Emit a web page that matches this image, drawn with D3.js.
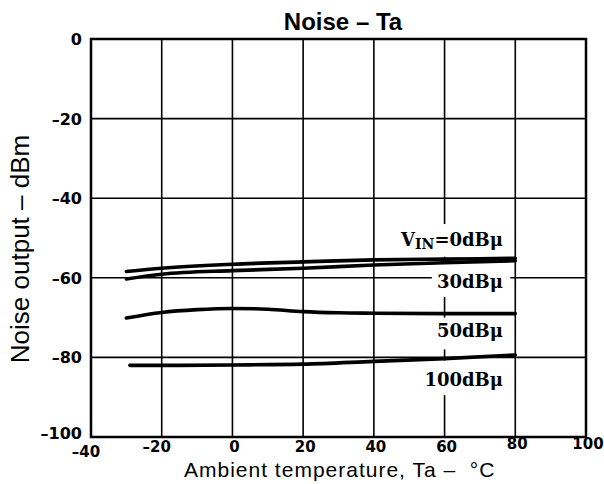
<!DOCTYPE html>
<html><head><meta charset="utf-8">
<script src="https://cdn.jsdelivr.net/npm/d3@7"></script>
<style>html,body{margin:0;padding:0;background:#fff;}svg{display:block;}</style>
</head><body>
<svg id="chart" width="604" height="484"></svg>
<script>
// ---- data ----
const title = "Noise – Ta";
const xTitle = "Ambient temperature, Ta –  °C";
const yTitle = "Noise output – dBm";
const xTicks = [-40, -20, 0, 20, 40, 60, 80, 100];
const yTicks = [0, -20, -40, -60, -80, -100];
const seriesNames = ["0dBμ", "30dBμ", "50dBμ", "100dBμ"];
const temps0 = [-30, -20, 0, 20, 40, 60, 80];
const noise0 = [-58.4, -57.6, -56.6, -56.0, -55.5, -55.3, -55.1];
const temps30 = [-30, -20, 0, 20, 40, 60, 80];
const noise30 = [-60.3, -59.1, -58.2, -57.6, -56.8, -56.2, -55.7];
const temps50 = [-30, -20, -10, 0, 10, 20, 30, 40, 60, 80];
const noise50 = [-70.1, -68.7, -68.0, -67.7, -67.9, -68.5, -68.8, -68.9, -69.0, -69.0];
const temps100 = [-29, -20, 0, 20, 40, 60, 80];
const noise100 = [-82.0, -82.0, -81.9, -81.7, -81.0, -80.3, -79.4];

const series = [
  {t: temps0, v: noise0},
  {t: temps30, v: noise30},
  {t: temps50, v: noise50},
  {t: temps100, v: noise100}
];

const svg = d3.select("#chart");
const L = 91, R = 586, T = 39, B = 437;
const x = d3.scaleLinear().domain([-40, 100]).range([L, R]);
const y = d3.scaleLinear().domain([-100, 0]).range([B, T]);

// grid
const g = svg.append("g");
g.selectAll("line.vx").data(xTicks.slice(1, -1)).join("line")
  .attr("x1", d => x(d)).attr("x2", d => x(d)).attr("y1", T).attr("y2", B)
  .attr("stroke", "#000").attr("stroke-width", 1.6);
g.selectAll("line.hy").data(yTicks.slice(1, -1)).join("line")
  .attr("x1", L).attr("x2", R).attr("y1", d => y(d)).attr("y2", d => y(d))
  .attr("stroke", "#000").attr("stroke-width", 1.6);

// white boxes behind labels (knock out grid)
const labelBoxes = [
  {x0: 44, x1: 78.6, y0: -46.5, y1: -54.7},
  {x0: 56.4, x1: 78.6, y0: -56.3, y1: -64.8},
  {x0: 57.3, x1: 78.6, y0: -70.0, y1: -78.0},
  {x0: 54.5, x1: 78.6, y0: -80.8, y1: -89.5}
];
g.selectAll("rect.box").data(labelBoxes).join("rect")
  .attr("x", d => x(d.x0)).attr("width", d => x(d.x1) - x(d.x0))
  .attr("y", d => y(d.y0)).attr("height", d => y(d.y1) - y(d.y0))
  .attr("fill", "#fff");

// frame
svg.append("rect").attr("x", L).attr("y", T).attr("width", R - L).attr("height", B - T)
  .attr("fill", "none").attr("stroke", "#000").attr("stroke-width", 2.5);

// curves
const line = d3.line().x(d => x(d[0])).y(d => y(d[1])).curve(d3.curveMonotoneX);
svg.selectAll("path.curve").data(series).join("path")
  .attr("d", s => line(s.t.map((t, i) => [t, s.v[i]])))
  .attr("fill", "none").attr("stroke", "#000").attr("stroke-width", 3.6)
  .attr("stroke-linecap", "round");

// axis tick labels
const tickFont = "'DejaVu Sans', sans-serif";
svg.selectAll("text.yt").data(yTicks).join("text")
  .attr("x", 82).attr("y", d => d === -100 ? y(d) + 2 : y(d) + 6)
  .attr("text-anchor", "end").attr("font-family", tickFont).attr("font-weight", "bold")
  .attr("font-size", 16).text(d => d < 0 ? "–" + Math.abs(d) : d);
svg.selectAll("text.xt").data(xTicks).join("text")
  .attr("x", d => x(d) + (d < 0 ? -5 : 2))
  .attr("y", d => d >= 80 ? 449 : (d === -40 ? 457 : 452))
  .attr("text-anchor", "middle").attr("font-family", tickFont).attr("font-weight", "bold")
  .attr("font-size", 15).text(d => d < 0 ? "–" + Math.abs(d) : d);

// titles
svg.append("text").attr("x", 343).attr("y", 30).attr("text-anchor", "middle")
  .attr("font-family", "'Liberation Sans', Arial, sans-serif").attr("font-weight", "bold")
  .attr("font-size", 24).text(title);
svg.append("text").attr("x", 184).attr("y", 477)
  .attr("font-family", "'Liberation Sans', Arial, sans-serif")
  .attr("font-size", 21).attr("letter-spacing", 1)
  .attr("xml:space", "preserve").style("white-space", "pre").text(xTitle);
svg.append("text").attr("transform", "translate(29,249) rotate(-90)").attr("text-anchor", "middle")
  .attr("font-family", "'Liberation Sans', Arial, sans-serif")
  .attr("font-size", 26).text(yTitle);

// series labels
const serifFont = "'DejaVu Serif', serif";
const labelY = [-52.0, -62.6, -74.8, -87.2];
const labX = 503;
const lab0 = svg.append("text").attr("x", labX).attr("y", y(labelY[0]))
  .attr("text-anchor", "end").attr("font-family", serifFont).attr("font-weight", "bold").attr("font-size", 18);
lab0.append("tspan").text("V");
lab0.append("tspan").attr("font-size", 14).attr("dy", 3).text("IN");
lab0.append("tspan").attr("dy", -3).text("=" + seriesNames[0]);
svg.selectAll("text.sl").data(seriesNames.slice(1)).join("text")
  .attr("x", labX).attr("y", (d, i) => y(labelY[i + 1]))
  .attr("text-anchor", "end").attr("font-family", serifFont).attr("font-weight", "bold")
  .attr("font-size", 18).text(d => d);
</script>
</body></html>
